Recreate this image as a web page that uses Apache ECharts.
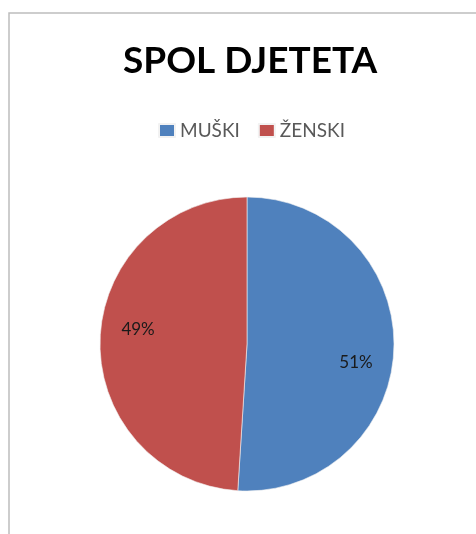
<!DOCTYPE html>
<html>
<head>
<meta charset="utf-8">
<script src="https://cdn.jsdelivr.net/npm/echarts@6/dist/echarts.min.js"></script>
<style>
  html, body { margin: 0; padding: 0; background: #fff; }
  #chart { width: 476px; height: 534px; }
</style>
</head>
<body>
<div id="chart"></div>
<script>
const categories = ["MUŠKI", "ŽENSKI"];
const values = [51, 49];
const colors = ["#4F81BD", "#C0504D"];

const chart = echarts.init(document.getElementById("chart"));

const sliceData = categories.map((name, i) => ({
  name: name,
  value: values[i],
  itemStyle: { color: colors[i] },
}));

// Excel best-fit labels sit a bit off the mid angle: blue lower, red higher
const labelData = [
  { name: categories[0], value: values[0], label: { formatter: "\n{c}%", lineHeight: 30 } },
  { name: categories[1], value: values[1], label: { formatter: "{c}%\n", lineHeight: 22 } },
];

const option = {
  backgroundColor: "#fff",
  animation: false,
  graphic: [
    {
      type: "rect",
      shape: { x: 9, y: 13, width: 520, height: 600 },
      style: { fill: "none", stroke: "#bdbdbd", lineWidth: 1.5 },
      silent: true,
    },
  ],
  title: {
    text: "SPOL DJETETA",
    left: 118,
    top: 38,
    textStyle: {
      fontFamily: "Lato",
      fontWeight: "bold",
      fontSize: 37,
      color: "#000",
    },
  },
  legend: {
    data: categories,
    top: 116,
    left: 153,
    icon: "rect",
    itemWidth: 16,
    itemHeight: 13,
    itemGap: 18,
    textStyle: {
      fontFamily: "Lato",
      fontSize: 19,
      color: "#595959",
    },
  },
  series: [
    {
      type: "pie",
      center: [247, 344],
      radius: [0, 147],
      startAngle: 90,
      clockwise: true,
      silent: true,
      label: { show: false },
      labelLine: { show: false },
      itemStyle: { borderColor: "#f2f2f2", borderWidth: 0.6 },
      data: sliceData,
    },
    {
      // transparent ring, only used to place the percent labels
      type: "pie",
      center: [247, 344],
      radius: [65, 147],
      startAngle: 90,
      clockwise: true,
      silent: true,
      legendHoverLink: false,
      itemStyle: { color: "transparent" },
      label: {
        show: true,
        position: "inside",
        fontFamily: "Lato",
        fontSize: 17,
        color: "#1a1a1a",
      },
      labelLine: { show: false },
      data: labelData,
    },
  ],
};

chart.setOption(option);
</script>
</body>
</html>
